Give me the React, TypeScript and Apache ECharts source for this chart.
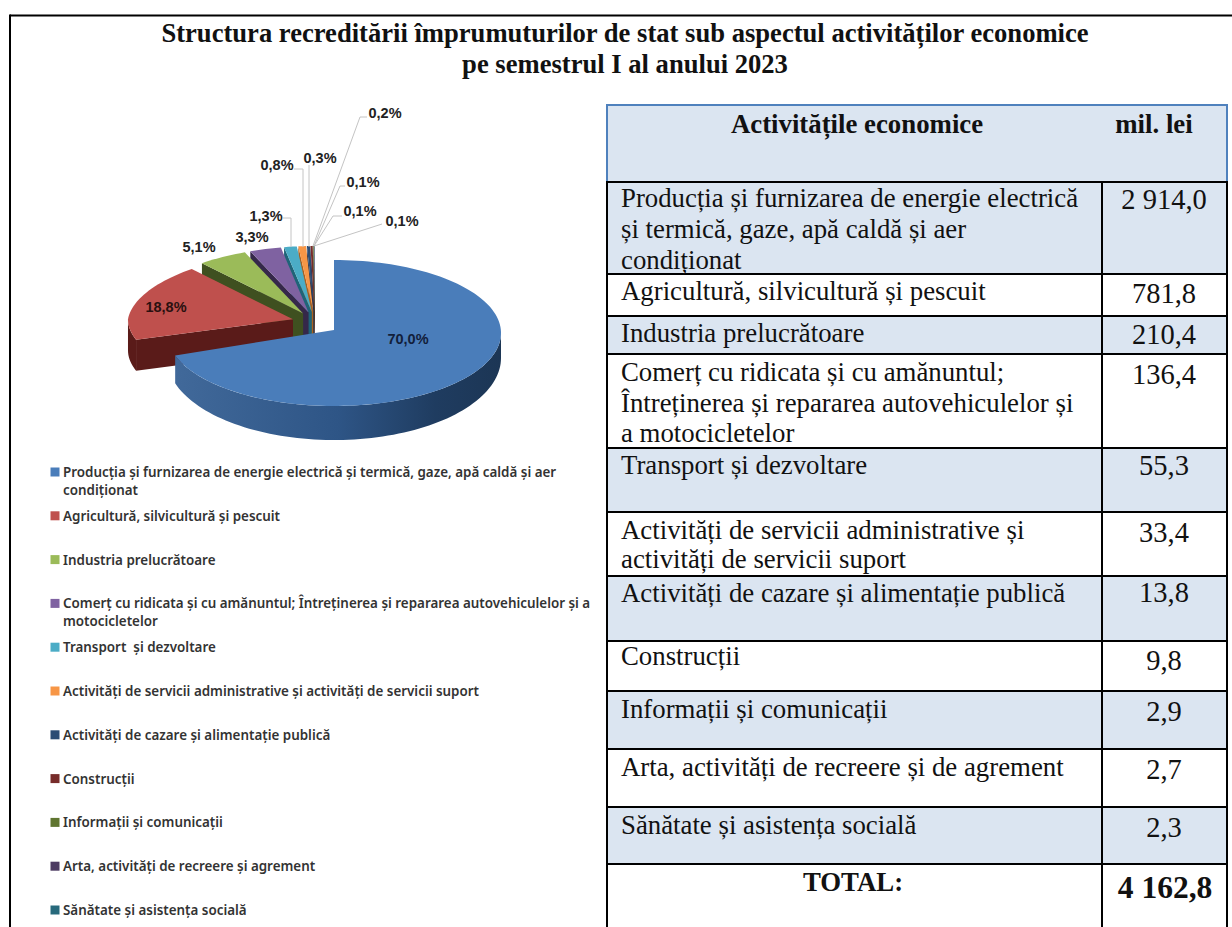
import React, { useEffect, useRef } from "react";
import * as echarts from "echarts";

const titleLines = [
  "Structura recreditării împrumuturilor de stat sub aspectul activităților economice",
  "pe semestrul I al anului 2023",
];

const legendNames = [
  "Producția și furnizarea de energie electrică și termică, gaze, apă caldă și aer\ncondiționat",
  "Agricultură, silvicultură și pescuit",
  "Industria prelucrătoare",
  "Comerț cu ridicata și cu amănuntul; Întreținerea și repararea autovehiculelor și a\nmotocicletelor",
  "Transport  și dezvoltare",
  "Activități de servicii administrative și activități de servicii suport",
  "Activități de cazare și alimentație publică",
  "Construcții",
  "Informații și comunicații",
  "Arta, activități de recreere și agrement",
  "Sănătate și asistența socială",
];

const tableHeader = ["Activitățile economice", "mil. lei"];

const tableNames = [
  "Producția și furnizarea de energie electrică\nși termică, gaze, apă caldă și aer\ncondiționat",
  "Agricultură, silvicultură și pescuit",
  "Industria prelucrătoare",
  "Comerț cu ridicata și cu amănuntul;\nÎntreținerea și repararea autovehiculelor și\na motocicletelor",
  "Transport și dezvoltare",
  "Activități de servicii administrative și\nactivități de servicii suport",
  "Activități de cazare și alimentație publică",
  "Construcții",
  "Informații și comunicații",
  "Arta, activități de recreere și de agrement",
  "Sănătate și asistența socială",
];

const values = [2914.0, 781.8, 210.4, 136.4, 55.3, 33.4, 13.8, 9.8, 2.9, 2.7, 2.3];
const totalLabel = "TOTAL:";

const topColors = ["#4a7dba", "#bf504d", "#9bbb59", "#7f62a1", "#4bacc6", "#f79646", "#2c4d75", "#772c2a", "#5f7530", "#4d3b62", "#276a7c"];
const wallColors = ["#2f5788", "#5a1b19", "#3f5020", "#35284a", "#1f6478", "#a9601f", "#1b3050", "#4d1a1a", "#3f4f20", "#33263f", "#19505e"];

// layout only
const rowEdges = [182, 274, 316, 354, 448, 512, 576, 641, 691, 749, 807, 864, 927];
const rowTextOffset = [16, 17, 17, 18, 17, 18, 17, 15, 18, 18, 18];
const rowLineHeights = [31, 31, 31, 30.5, 31, 28.5, 31, 31, 31, 31, 31];
const valueTextOffset = [17, 19, 18, 20, 17, 20, 16, 19, 20, 20, 20];
const labelCenters = [
  [408, 339], [166, 307], [199, 247], [252, 237], [266, 216], [277, 165],
  [320, 158], [385, 113], [363, 182], [360, 211], [402, 221],
];
const leaderPaths: number[][][] = [
  [], [], [], [],
  [[283, 218], [291, 218], [291, 247]],
  [[294, 169], [303, 169], [303, 247]],
  [[309, 165], [309, 247]],
  [[367, 117], [360, 117], [313, 246]],
  [[345, 186], [340, 186], [314, 246]],
  [[342, 216], [333, 216], [314, 246]],
  [[382, 224], [314, 246]],
];

const PIE = { cx: 334, cy: 333, rx: 167, ry: 73, rxBack: 165, ryBack: 66, taper: 0.07, depth: 31, shiftX: -19, shiftY: -8, explode: 0.137 };
const total = values.reduce((a, b) => a + b, 0);
const pct = (v: number) => ((v / total) * 100).toFixed(1).replace(".", ",") + "%";
const money = (v: number) => {
  const [i, d] = v.toFixed(1).split(".");
  return i.replace(/\B(?=(\d{3})+$)/g, " ") + "," + d;
};

const SERIF = "'Liberation Serif','Times New Roman',serif";
const SANS = "'Liberation Sans',Arial,sans-serif";

function renderSlice(params: any) {
  const i = params.dataIndex;
  const start = (values.slice(0, i).reduce((a, b) => a + b, 0) / total) * 360;
  const end = start + (values[i] / total) * 360;
  const mid = (start + end) / 2;
  const rad = (d: number) => (d * Math.PI) / 180;
  let ax = PIE.cx;
  let ay = PIE.cy - 3;
  if (i > 0) {
    ax += PIE.shiftX + Math.sin(rad(mid)) * PIE.explode * PIE.rx;
    ay += PIE.shiftY - Math.cos(rad(mid)) * PIE.explode * PIE.ry;
  }
  const ccy = i === 0 ? PIE.cy : ay;
  const ry = i === 0 ? PIE.ry : PIE.ryBack;
  const rxAt = (d: number) =>
    i === 0 ? PIE.rx : PIE.rxBack * (1 - PIE.taper * Math.max(0, Math.cos(rad(d))));
  const depthAt = (d: number) => (i === 0 ? 25 + 9 * Math.max(0, -Math.cos(rad(d))) : PIE.depth);
  const pt = (d: number) => [ax + Math.sin(rad(d)) * rxAt(d), ccy - Math.cos(rad(d)) * ry];
  const arc = (a: number, b: number, down = false) => {
    const n = Math.max(2, Math.ceil(Math.abs(b - a) / 2));
    const out: number[][] = [];
    for (let k = 0; k <= n; k++) {
      const d = a + ((b - a) * k) / n;
      const p = pt(d);
      out.push(down ? [p[0], p[1] + depthAt(d)] : p);
    }
    return out;
  };
  const base = (values.length - i) * 4;
  const children: any[] = [];
  if (i > 0) {
    const s = pt(start);
    children.push({
      type: "polygon", z2: base,
      shape: { points: [[ax, ay], s, [s[0], s[1] + PIE.depth], [ax, ay + PIE.depth]] },
      style: { fill: wallColors[i] },
    });
  }
  const wa = Math.max(start, 90);
  const wb = Math.min(end, 270);
  if (wb > wa) {
    const fill = i === 0
      ? new echarts.graphic.LinearGradient(0, 0, 1, 0, [
          { offset: 0, color: "#41699a" },
          { offset: 0.5, color: "#2e5586" },
          { offset: 0.8, color: "#1f3c60" },
          { offset: 1, color: "#1c3655" },
        ])
      : wallColors[i];
    children.push({
      type: "polygon", z2: base + 1,
      shape: { points: [...arc(wa, wb), ...arc(wb, wa, true)] },
      style: { fill },
    });
  }
  children.push({
    type: "polygon", z2: base + 2,
    shape: { points: [[ax, ay], ...arc(start, end)] },
    style: { fill: topColors[i] },
  });
  if (leaderPaths[i].length) {
    children.push({
      type: "polyline", z2: 200,
      shape: { points: leaderPaths[i] },
      style: { stroke: "#c4c4c4", lineWidth: 1, fill: "none" },
    });
  }
  children.push({
    type: "text", z2: 210,
    x: labelCenters[i][0], y: labelCenters[i][1],
    style: {
      text: pct(values[i]), textAlign: "center", textVerticalAlign: "middle",
      fontFamily: SANS, fontWeight: "bold", fontSize: 14.5,
      fill: i === 0 ? "#12203a" : i === 1 ? "#2a1010" : "#222222",
    },
  });
  return { type: "group", children };
}

function buildGraphic() {
  const g: any[] = [];
  const black = "#000000";
  const line = (x1: number, y1: number, x2: number, y2: number, stroke = black, w = 2) =>
    g.push({ type: "line", z: 3, shape: { x1, y1, x2, y2 }, style: { stroke, lineWidth: w } });
  const txt = (text: string, x: number, y: number, o: any) =>
    g.push({ type: "text", z: 4, x, y, style: { text, fontFamily: SERIF, fill: "#111111", ...o } });

  // page frame
  line(10, 15.5, 1232, 15.5);
  line(10, 14.5, 10, 927);

  titleLines.forEach((t, k) =>
    txt(t, 625, 33 + k * 31, { textAlign: "center", textVerticalAlign: "middle", fontWeight: "bold", fontSize: 26.6 })
  );

  // legend
  legendNames.forEach((name, i) => {
    const y = 472 + i * 43.8;
    g.push({ type: "rect", z: 3, shape: { x: 50.5, y: y - 4.5, width: 9, height: 9 }, style: { fill: topColors[i] } });
    g.push({
      type: "text", z: 4, x: 63, y: y - 9,
      style: { text: name, fontFamily: "'Noto Sans',sans-serif", fontWeight: 600, fontSize: 13.4, lineHeight: 18, fill: "#333333" },
    });
  });

  // table
  const L = 607, R = 1227, D = 1102;
  g.push({ type: "rect", z: 1, shape: { x: L, y: 105, width: R - L, height: rowEdges[0] - 105 }, style: { fill: "#dbe5f1" } });
  for (let r = 0; r < rowEdges.length - 1; r++) {
    if (r % 2 === 0 && r < values.length) {
      g.push({ type: "rect", z: 1, shape: { x: L, y: rowEdges[r], width: R - L, height: rowEdges[r + 1] - rowEdges[r] }, style: { fill: "#dbe5f1" } });
    }
  }
  line(L - 1, 105, R + 1, 105, "#4f81bd");
  line(L, 105, L, rowEdges[0], "#4f81bd");
  line(R, 105, R, rowEdges[0], "#4f81bd");
  rowEdges.slice(0, -1).forEach((y) => line(L - 1, y, R + 1, y));
  line(L, rowEdges[0], L, 927);
  line(D, rowEdges[0], D, 927);
  line(R, rowEdges[0], R, 927);

  txt(tableHeader[0], 857, 124, { textAlign: "center", textVerticalAlign: "middle", fontWeight: "bold", fontSize: 26.8 });
  txt(tableHeader[1], 1154, 124, { textAlign: "center", textVerticalAlign: "middle", fontWeight: "bold", fontSize: 26.8 });

  tableNames.forEach((t, r) => {
    txt(t, 621, rowEdges[r] + rowTextOffset[r] - rowLineHeights[r] / 2, { fontSize: 26.8, lineHeight: rowLineHeights[r] });
    txt(money(values[r]), 1164, rowEdges[r] + valueTextOffset[r], { textAlign: "center", textVerticalAlign: "middle", fontSize: 28.5 });
  });
  txt(totalLabel, 853, 882, { textAlign: "center", textVerticalAlign: "middle", fontWeight: "bold", fontSize: 26.8 });
  txt(money(total), 1165, 887, { textAlign: "center", textVerticalAlign: "middle", fontWeight: "bold", fontSize: 31.5 });
  return g;
}

export default function App() {
  const ref = useRef<HTMLDivElement>(null);
  useEffect(() => {
    document.body.style.margin = "0";
    const chart = echarts.init(ref.current!, undefined, { renderer: "svg" });
    chart.setOption({
      animation: false,
      backgroundColor: "#ffffff",
      graphic: buildGraphic(),
      series: [
        {
          type: "custom",
          coordinateSystem: "none",
          silent: true,
          renderItem: renderSlice,
          data: values,
        },
      ],
    });
    return () => chart.dispose();
  }, []);
  return <div ref={ref} style={{ width: 1232, height: 927 }} />;
}
